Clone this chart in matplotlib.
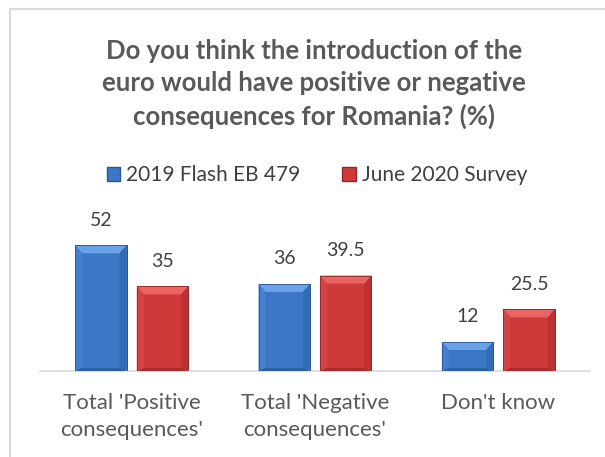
import numpy as np
import matplotlib
matplotlib.use('Agg')
import matplotlib.pyplot as plt
from matplotlib.patches import Polygon, Patch
from matplotlib.lines import Line2D

plt.rcParams['font.family'] = ['Lato', 'DejaVu Sans']

# Данные опроса
categories = ["Total 'Positive\nconsequences'", "Total 'Negative\nconsequences'", "Don't know"]
series_names = ['2019 Flash EB 479', 'June 2020 Survey']
values_2019 = [52, 36, 12]
values_2020 = [35, 39.5, 25.5]

W, H = 605, 457
fig = plt.figure(figsize=(W / 100, H / 100), dpi=100)

# Рамка (видны только левая и верхняя стороны)
fig.add_artist(Line2D([10 / W, 10 / W], [0, 1 - 9 / H], color='#D9D9D9', lw=1.5))
fig.add_artist(Line2D([10 / W, 1], [1 - 9 / H, 1 - 9 / H], color='#D9D9D9', lw=1.5))

ax = fig.add_axes([40 / W, 1 - 371 / H, 550 / W, 145 / H])
ax.set_xlim(-0.5, 2.5)
ax.set_ylim(0, 60)

# Цвета: основа, верхняя фаска, левая, правая, нижняя, контур
blue = dict(base='#3C77C6', top='#6AA2EA', left='#4380CF', right='#346BB6',
            bottom='#2D5FA4', edge='#2A5594')
red = dict(base='#CE3A3A', top='#EA6464', left='#D44444', right='#BA3232',
           bottom='#A82C2C', edge='#922626')

x = np.arange(len(categories))
width = 0.28
offset = 0.168

# пиксели -> единицы данных для фаски
px_x = 3.0 / 550
px_y = 60 / 145
bevel_x = 7 * px_x
bevel_y = 8 * px_y
bevel_b = 3 * px_y


def bevel_bars(xs, vals, c):
    bars = ax.bar(xs, vals, width, color=c['base'], edgecolor=c['edge'], linewidth=0.6, zorder=2)
    for b in bars:
        x0, y0 = b.get_x(), b.get_y()
        x1, y1 = x0 + b.get_width(), y0 + b.get_height()
        ix0, ix1 = x0 + bevel_x, x1 - bevel_x
        iy0, iy1 = y0 + bevel_b, y1 - bevel_y
        faces = [
            ([(x0, y1), (x1, y1), (ix1, iy1), (ix0, iy1)], c['top']),
            ([(x0, y1), (ix0, iy1), (ix0, iy0), (x0, y0)], c['left']),
            ([(x1, y1), (ix1, iy1), (ix1, iy0), (x1, y0)], c['right']),
            ([(x0, y0), (ix0, iy0), (ix1, iy0), (x1, y0)], c['bottom']),
        ]
        for pts, col in faces:
            ax.add_patch(Polygon(pts, closed=True, facecolor=col, edgecolor='none', zorder=3))
        ax.add_patch(Polygon([(x0, y0), (x0, y1), (x1, y1), (x1, y0)], closed=True,
                             facecolor='none', edgecolor=c['edge'], linewidth=0.6, zorder=4))
    for xi, v in zip(xs, vals):
        ax.annotate(f'{v:g}', (xi, v), xytext=(0, 25), textcoords='offset pixels',
                    ha='center', va='center', fontsize=14, color='#404040')
    return bars


bevel_bars(x - offset, values_2019, blue)
bevel_bars(x + offset, values_2020, red)

for side in ['left', 'right', 'top']:
    ax.spines[side].set_visible(False)
ax.spines['bottom'].set_color('#D9D9D9')
ax.spines['bottom'].set_linewidth(1.2)
ax.set_yticks([])
ax.set_xticks(x)
ax.set_xticklabels(categories, fontsize=16, color='#595959', linespacing=1.42)
ax.tick_params(axis='x', length=0, pad=16)

fig.text(314 / W, 1 - 84 / H,
         'Do you think the introduction of the\neuro would have positive or negative\nconsequences for Romania? (%)',
         ha='center', va='center', fontsize=18.5, fontweight='bold', color='#595959', linespacing=1.40)

handles = [Patch(facecolor=blue['base'], edgecolor=blue['edge']),
           Patch(facecolor=red['base'], edgecolor=red['edge'])]
fig.legend(handles, series_names, loc='center', bbox_to_anchor=(317 / W, 1 - 175 / H),
           ncol=2, frameon=False, fontsize=15, labelcolor='#404040',
           handlelength=0.65, handleheight=0.65, handletextpad=0.3, columnspacing=2.0)

fig.savefig('out.png', dpi=100)
